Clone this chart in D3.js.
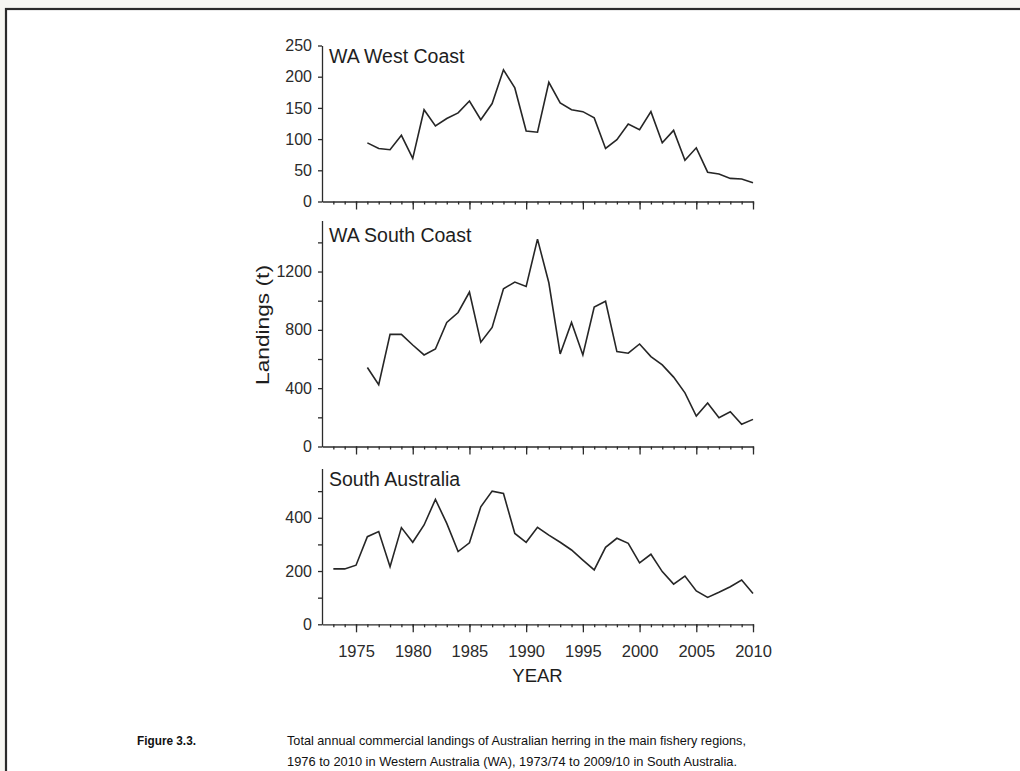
<!DOCTYPE html>
<html><head><meta charset="utf-8">
<script src="https://cdn.jsdelivr.net/npm/d3@7"></script>
<style>
html,body{margin:0;padding:0;background:#f6f6f2;}
svg{display:block;font-family:"Liberation Sans",Arial,sans-serif;}
</style></head>
<body>
<svg id="c" width="1020" height="771"></svg>
<script>
// ---- data ----
const westYears = d3.range(1976, 2011);
const westValues = [94,85,83,106,69,147,121,133,142,161,131,157,211,182,113,111,191,158,147,144,134,85,99,124,115,144,94,114,66,86,47,44,37,36,30];
const southYears = d3.range(1976, 2011);
const southValues = [542,424,769,769,696,628,669,851,919,1059,715,817,1082,1128,1098,1422,1123,635,851,628,957,996,651,640,703,617,560,476,368,209,299,197,238,152,186];
const saYears = d3.range(1973, 2011);
const saValues = [208,208,222,329,348,216,363,308,373,469,379,273,306,441,500,491,341,308,364,335,308,279,241,204,289,323,304,231,263,198,151,181,125,101,120,141,166,116];
const panelTitles = ["WA West Coast","WA South Coast","South Australia"];
const xMajorTicks = [1975,1980,1985,1990,1995,2000,2005,2010];
const yTicks1 = [0,50,100,150,200,250];
const yTicks2 = [0,200,400,600,800,1000,1200,1400];
const yLabels2 = [0,400,800,1200];
const yTicks3 = [0,100,200,300,400,500];
const yLabels3 = [0,200,400];
const captionLabel = "Figure 3.3.";
const captionLines = ["Total annual commercial landings of Australian herring in the main fishery regions,",
                      "1976 to 2010 in Western Australia (WA), 1973/74 to 2009/10 in South Australia."];

const svg = d3.select("#c");
// page frame
svg.append("rect").attr("x",6).attr("y",9).attr("width",1100).attr("height",1000)
  .attr("fill","#fff").attr("stroke","#2a2a2a").attr("stroke-width",2.2);

const ink = "#2b2b2b";
const x = d3.scaleLinear().domain([1972, 2010]).range([322, 753]);

const panels = [
  {years: westYears, values: westValues, domain:[0,250], range:[201.5,45.5], ticks:yTicks1, labels:yTicks1, title:panelTitles[0], titleY:63, showX:false},
  {years: southYears, values: southValues, domain:[0,1550], range:[446.5,220.5], ticks:yTicks2, labels:yLabels2, title:panelTitles[1], titleY:242, showX:false},
  {years: saYears, values: saValues, domain:[0,585], range:[624.3,468.5], ticks:yTicks3, labels:yLabels3, title:panelTitles[2], titleY:486, showX:true}
];

panels.forEach(p => {
  const y = d3.scaleLinear().domain(p.domain).range(p.range);
  const g = svg.append("g");
  const y0 = p.range[0];
  // y axis
  const ya = g.append("g").attr("transform", `translate(${x.range()[0]},0)`)
    .call(d3.axisLeft(y).tickValues(p.ticks).tickSize(4).tickSizeOuter(0).tickPadding(6)
      .tickFormat(d => p.labels.includes(d) ? d : ""));
  ya.selectAll("text").attr("font-size", 16).attr("fill", ink).attr("font-family", "Liberation Sans, Arial, sans-serif");
  ya.selectAll("line,path").attr("stroke", ink).attr("stroke-width", 1.3);
  // x axis minor
  const xm = g.append("g").attr("transform", `translate(0,${y0})`)
    .call(d3.axisBottom(x).tickValues(d3.range(1973, 2011)).tickSize(3).tickSizeOuter(0).tickFormat(""));
  xm.selectAll("line,path").attr("stroke", ink).attr("stroke-width", 1.3);
  // x axis major
  const xa = g.append("g").attr("transform", `translate(0,${y0})`)
    .call(d3.axisBottom(x).tickValues(xMajorTicks).tickSize(8).tickSizeOuter(0).tickPadding(13)
      .tickFormat(d => p.showX ? d : ""));
  xa.select("path").remove();
  xa.selectAll("line").attr("stroke", ink).attr("stroke-width", 1.3);
  xa.selectAll("text").attr("font-size", 16.5).attr("fill", ink).attr("font-family", "Liberation Sans, Arial, sans-serif");
  // line
  const line = d3.line().x((d,i) => x(p.years[i])).y(d => y(d));
  g.append("path").datum(p.values).attr("d", line).attr("fill","none")
    .attr("stroke","#262626").attr("stroke-width",1.6).attr("stroke-linejoin","miter");
  // title
  g.append("text").attr("x", 329).attr("y", p.titleY).attr("font-size", 19.5).attr("fill", "#1e1e1e").text(p.title);
});

// axis titles
svg.append("text").attr("x", 537.5).attr("y", 681.5).attr("text-anchor","middle")
  .attr("font-size", 18.5).attr("fill", "#1e1e1e").text("YEAR");
svg.append("text").attr("transform","translate(269,325) rotate(-90)").attr("text-anchor","middle")
  .attr("font-size", 19).attr("fill", "#1e1e1e")
  .attr("textLength", 120).attr("lengthAdjust","spacingAndGlyphs").text("Landings (t)");

// caption
svg.append("text").attr("x", 137).attr("y", 745).attr("font-size", 12.5).attr("font-weight","bold")
  .attr("fill","#111").attr("textLength", 59).attr("lengthAdjust","spacingAndGlyphs").text(captionLabel);
svg.append("text").attr("x", 287).attr("y", 745).attr("font-size", 13).attr("fill","#111")
  .attr("textLength", 459).attr("lengthAdjust","spacingAndGlyphs").text(captionLines[0]);
svg.append("text").attr("x", 287).attr("y", 766).attr("font-size", 13).attr("fill","#111")
  .attr("textLength", 450).attr("lengthAdjust","spacingAndGlyphs").text(captionLines[1]);
</script>
</body></html>
